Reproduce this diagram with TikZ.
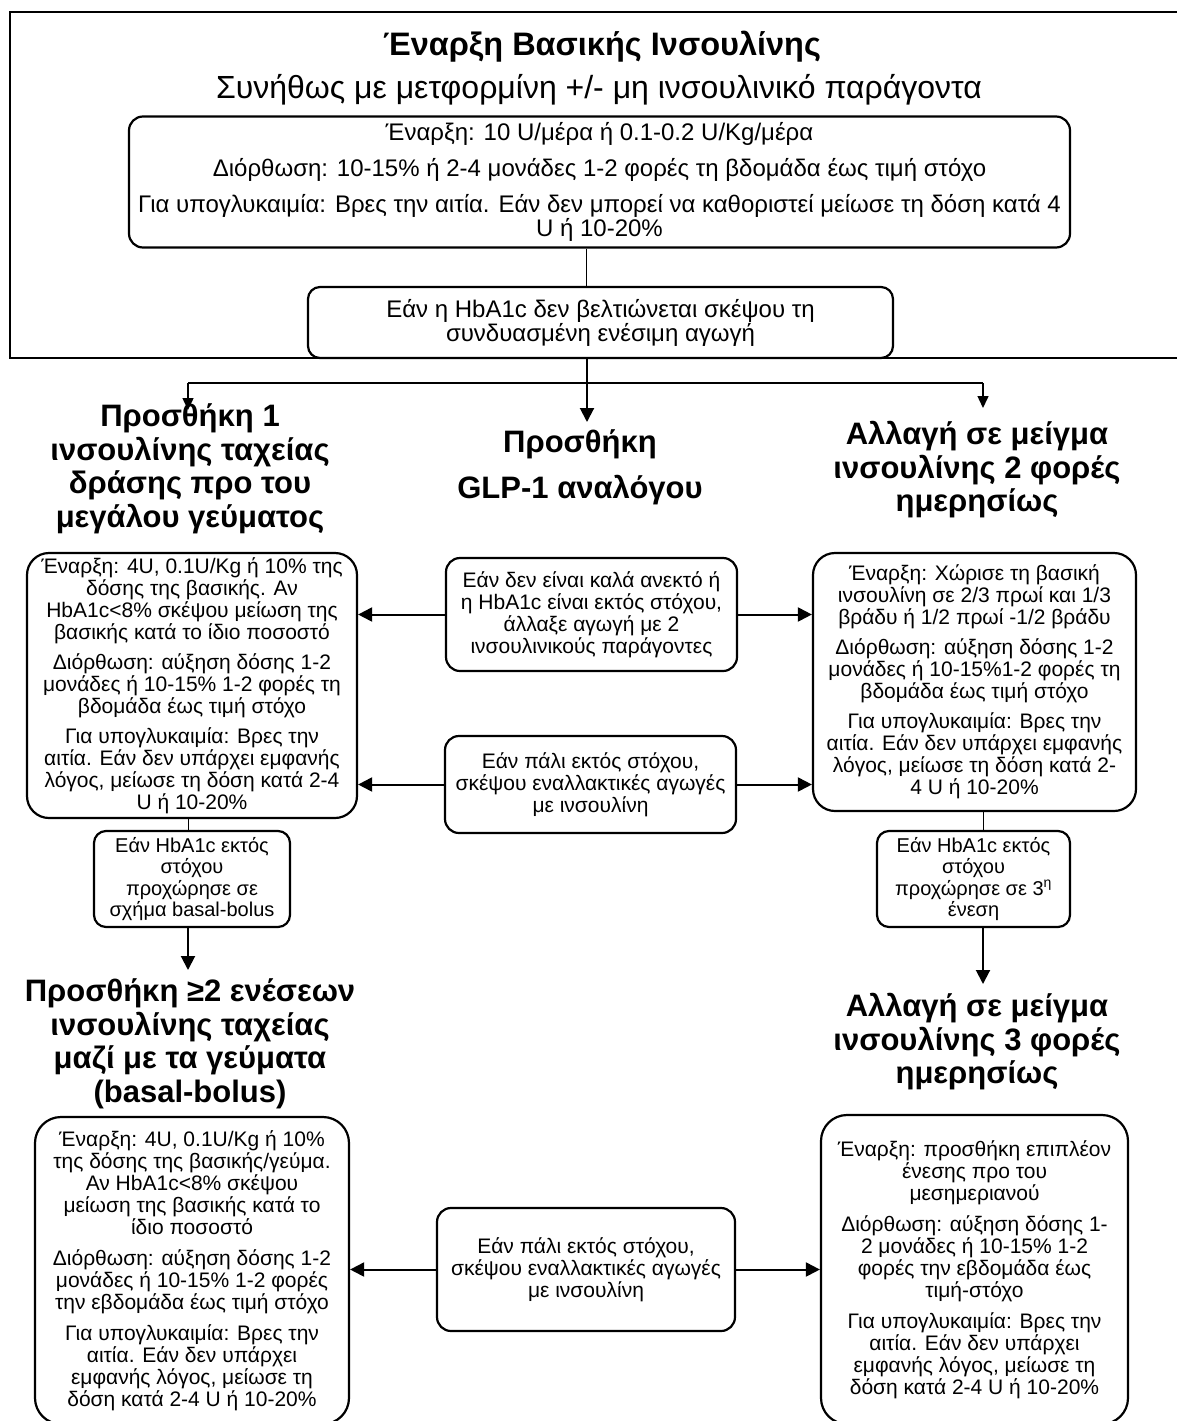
\documentclass[tikz,border=0pt]{standalone}
\usepackage{fontspec}
\setmainfont{Liberation Sans}
\usetikzlibrary{arrows.meta}
\newcommand\bodyf{\fontsize{21}{22}\selectfont}
\newcommand\smallf{\fontsize{20}{21.5}\selectfont}
\newcommand\topf{\fontsize{24}{23}\selectfont}
\newcommand\headf{\fontsize{31}{33.5}\selectfont\bfseries}
\begin{document}
\begin{tikzpicture}[x=1pt,y=-1pt,
  box/.style={draw, line width=2.2pt, fill=white, rounded corners=16pt, align=center, inner sep=0pt, font=\bodyf},
  head/.style={align=center, inner sep=0pt, font=\headf},
  arr/.style={line width=2pt, -{Triangle[length=14pt,width=14pt]}},
  arrs/.style={line width=1.5pt, -{Triangle[length=12pt,width=11pt]}},
  thinline/.style={line width=1pt},
]
\useasboundingbox (0,0) rectangle (1177,1421);
\clip (0,0) rectangle (1177,1421);

% outer frame
\draw[line width=2pt] (1195,12) -- (10,12) -- (10,358) -- (1195,358);

\node[font=\fontsize{32.5}{33}\selectfont\bfseries, anchor=base, inner sep=0pt] (title) at (602,56) {Έναρξη Βασικής Ινσουλίνης};
\node[font=\fontsize{32}{33}\selectfont, anchor=base, inner sep=0pt] (subtitle) at (599,99) {Συνήθως με μετφορμίνη +/- μη ινσουλινικό παράγοντα};

\node[box, font=\topf, rounded corners=14pt, minimum width=941pt, minimum height=131pt] (box1) at (599.5,182)
 {Έναρξη: 10 U/μέρα ή 0.1-0.2 U/Kg/μέρα\\[12pt]
  Διόρθωση: 10-15\% ή 2-4 μονάδες 1-2 φορές τη βδομάδα έως τιμή στόχο\\[12pt]
  Για υπογλυκαιμία: Βρες την αιτία. Εάν δεν μπορεί να καθοριστεί μείωσε τη δόση κατά 4\\
  U ή 10-20\%};

\node[box, font=\topf, rounded corners=12pt, minimum width=585pt, minimum height=71pt] (box2) at (600.5,322.5)
 {Εάν η HbA1c δεν βελτιώνεται σκέψου τη\\ συνδυασμένη ενέσιμη αγωγή};

\coordinate (cx) at (586,0);
\draw[thinline] (box1.south -| cx) -- (box2.north -| cx);

% branching
\coordinate (hub) at (587,383);
\coordinate (tipA) at (188,410);
\coordinate (tipB) at (587,422);
\coordinate (tipC) at (983,408);
\draw[arr] (box2.south -| hub) -- (tipB);
\draw[line width=1.5pt] (tipA |- hub) -- (tipC |- hub);
\draw[arrs] (tipA |- hub) -- (tipA);
\draw[arrs] (tipC |- hub) -- (tipC);

% titles
\node[head] (tL1) at (190,469) {Προσθήκη 1\\ ινσουλίνης ταχείας\\ δράσης προ του\\ μεγάλου γεύματος};
\node[head] (tC) at (580,467) {Προσθήκη\\[12.5pt] GLP-1 αναλόγου};
\node[head] (tR1) at (977,470) {Αλλαγή σε μείγμα\\ ινσουλίνης 2 φορές\\ ημερησίως};

% second row boxes
\node[box, rounded corners=22pt, minimum width=330pt, minimum height=265pt] (L1) at (192,685.5)
 {Έναρξη: 4U, 0.1U/Kg ή 10\% της\\ δόσης της βασικής. Αν\\ HbA1c<8\% σκέψου μείωση της\\ βασικής κατά το ίδιο ποσοστό\\[8pt]
  Διόρθωση: αύξηση δόσης 1-2\\ μονάδες ή 10-15\% 1-2 φορές τη\\ βδομάδα έως τιμή στόχο\\[8pt]
  Για υπογλυκαιμία: Βρες την\\ αιτία. Εάν δεν υπάρχει εμφανής\\ λόγος, μείωσε τη δόση κατά 2-4\\ U ή 10-20\%};

\node[box, rounded corners=14pt, minimum width=291pt, minimum height=113pt] (C1) at (591.5,614.5)
 {Εάν δεν είναι καλά ανεκτό ή\\ η HbA1c είναι εκτός στόχου,\\ άλλαξε αγωγή με 2\\ ινσουλινικούς παράγοντες};

\node[box, rounded corners=22pt, minimum width=323pt, minimum height=258pt] (R1) at (974.5,682)
 {Έναρξη: Χώρισε τη βασική\\ ινσουλίνη σε 2/3 πρωί και 1/3\\ βράδυ ή 1/2 πρωί -1/2 βράδυ\\[8pt]
  Διόρθωση: αύξηση δόσης 1-2\\ μονάδες ή 10-15\%1-2 φορές τη\\ βδομάδα έως τιμή στόχο\\[8pt]
  Για υπογλυκαιμία: Βρες την\\ αιτία. Εάν δεν υπάρχει εμφανής\\ λόγος, μείωσε τη δόση κατά 2-\\ 4 U ή 10-20\%};

\node[box, rounded corners=14pt, minimum width=291pt, minimum height=97pt] (C2) at (590.5,784.5)
 {Εάν πάλι εκτός στόχου,\\ σκέψου εναλλακτικές αγωγές\\ με ινσουλίνη};

\draw[arr] (C1.west) -- (C1.west -| L1.east);
\draw[arr] (C1.east) -- (C1.east -| R1.west);
\draw[arr] (C2.west) -- (C2.west -| L1.east);
\draw[arr] (C2.east) -- (C2.east -| R1.west);

% small boxes
\node[box, font=\smallf, rounded corners=12pt, minimum width=196pt, minimum height=96pt] (sL) at (192,879)
 {Εάν HbA1c εκτός\\ στόχου\\ προχώρησε σε\\ σχήμα basal-bolus};
\node[box, font=\smallf, rounded corners=12pt, minimum width=193pt, minimum height=96pt] (sR) at (973.5,879)
 {Εάν HbA1c εκτός\\ στόχου\\ προχώρησε σε 3\textsuperscript{η}\\ ένεση};

\coordinate (lx) at (188,0);
\coordinate (rx) at (983,0);
\draw[thinline] (L1.south -| lx) -- (sL.north -| lx);
\draw[thinline] (R1.south -| rx) -- (sR.north -| rx);

\coordinate (tipD) at (188,970);
\coordinate (tipE) at (983,984);
\draw[arr] (sL.south -| tipD) -- (tipD);
\draw[arr] (sR.south -| tipE) -- (tipE);

\node[head] (tL2) at (190,1044) {Προσθήκη ≥2 ενέσεων\\ ινσουλίνης ταχείας\\ μαζί με τα γεύματα\\ (basal-bolus)};
\node[head] (tR2) at (977,1042) {Αλλαγή σε μείγμα\\ ινσουλίνης 3 φορές\\ ημερησίως};

\node[box, rounded corners=26pt, minimum width=314pt, minimum height=307pt] (L2) at (192,1270.5)
 {Έναρξη: 4U, 0.1U/Kg ή 10\%\\ της δόσης της βασικής/γεύμα.\\ Αν HbA1c<8\% σκέψου\\ μείωση της βασικής κατά το\\ ίδιο ποσοστό\\[9pt]
  Διόρθωση: αύξηση δόσης 1-2\\ μονάδες ή 10-15\% 1-2 φορές\\ την εβδομάδα έως τιμή στόχο\\[9pt]
  Για υπογλυκαιμία: Βρες την\\ αιτία. Εάν δεν υπάρχει\\ εμφανής λόγος, μείωσε τη\\ δόση κατά 2-4 U ή 10-20\%};

\node[box, rounded corners=14pt, minimum width=298pt, minimum height=123pt] (C3) at (586,1269.5)
 {Εάν πάλι εκτός στόχου,\\ σκέψου εναλλακτικές αγωγές\\ με ινσουλίνη};

\node[box, rounded corners=26pt, minimum width=307pt, minimum height=309pt] (R2) at (974.5,1269.5)
 {Έναρξη: προσθήκη επιπλέον\\ ένεσης προ του\\ μεσημεριανού\\[9pt]
  Διόρθωση: αύξηση δόσης 1-\\ 2 μονάδες ή 10-15\% 1-2\\ φορές την εβδομάδα έως\\ τιμή-στόχο\\[9pt]
  Για υπογλυκαιμία: Βρες την\\ αιτία. Εάν δεν υπάρχει\\ εμφανής λόγος, μείωσε τη\\ δόση κατά 2-4 U ή 10-20\%};

\draw[arr] (C3.west) -- (C3.west -| L2.east);
\draw[arr] (C3.east) -- (C3.east -| R2.west);
\end{tikzpicture}
\end{document}
